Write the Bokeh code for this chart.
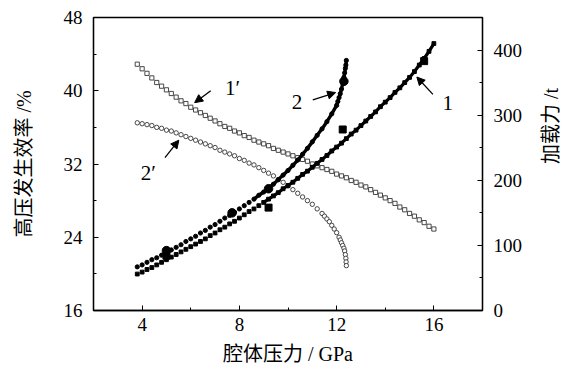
import math
from bokeh.plotting import figure
from bokeh.models import Range1d, LinearAxis, FixedTicker, Arrow, NormalHead, Label
from bokeh.embed import file_html
from bokeh.resources import INLINE

# ---------------- data ----------------
# pressure grid (GPa) for curves 1 and 1'
pressure_full = [3.8, 4.0, 4.2, 4.4, 4.6, 4.8, 5.0, 5.2, 5.4, 5.6, 5.8, 6.0, 6.2, 6.4, 6.6,
                 6.8, 7.0, 7.2, 7.4, 7.6, 7.8, 8.0, 8.2, 8.4, 8.6, 8.8, 9.0, 9.2, 9.4, 9.6,
                 9.8, 10.0, 10.2, 10.4, 10.6, 10.8, 11.0, 11.2, 11.4, 11.6, 11.8, 12.0, 12.2,
                 12.4, 12.6, 12.8, 13.0, 13.2, 13.4, 13.6, 13.8, 14.0, 14.2, 14.4, 14.6,
                 14.8, 15.0, 15.2, 15.4, 15.6, 15.8, 16.0]
# curve 1: load (t)
load_1 = [56, 59, 63, 66, 70, 74, 78, 82, 86, 90, 94, 98, 102, 106, 110, 115, 119, 124,
          128, 133, 137, 142, 147, 152, 156, 161, 166, 171, 176, 181, 187, 192, 197, 203,
          209, 214, 220, 226, 232, 238, 245, 251, 257, 264, 271, 277, 284, 291, 298, 305,
          313, 320, 327, 335, 342, 350, 358, 367, 377, 387, 398, 410]
# curve 1': efficiency (%)
eff_1p = [42.9, 42.4, 41.9, 41.4, 40.9, 40.5, 40.1, 39.7, 39.3, 38.9, 38.6, 38.2, 37.9,
          37.6, 37.3, 37.0, 36.7, 36.4, 36.1, 35.9, 35.6, 35.4, 35.1, 34.9, 34.6, 34.4,
          34.2, 34.0, 33.7, 33.5, 33.3, 33.1, 32.9, 32.7, 32.5, 32.3, 32.0, 31.8, 31.6,
          31.4, 31.2, 30.9, 30.7, 30.5, 30.2, 30.0, 29.7, 29.5, 29.2, 28.9, 28.6, 28.3,
          28.0, 27.7, 27.3, 27.0, 26.6, 26.3, 25.9, 25.6, 25.2, 24.9]

# curve 2: load (t)
pressure_2 = [3.8, 4.0, 4.2, 4.4, 4.6, 4.8, 5.0, 5.2, 5.4, 5.6, 5.8, 6.0, 6.2, 6.4, 6.6,
              6.8, 7.0, 7.2, 7.4, 7.6, 7.8, 8.0, 8.2, 8.4, 8.6, 8.8, 9.0, 9.2, 9.4, 9.6,
              9.8, 10.0, 10.2, 10.4, 10.6, 10.8, 11.0, 11.2, 11.4, 11.6, 11.8, 12.0,
              12.05, 12.1, 12.15, 12.2, 12.25, 12.3, 12.33, 12.36, 12.38, 12.4]
load_2 = [67, 70, 74, 78, 81, 85, 89, 93, 97, 101, 106, 110, 114, 119, 123, 128, 132,
          137, 142, 146, 151, 156, 161, 166, 171, 177, 182, 188, 194, 201, 208, 215, 223,
          231, 240, 249, 259, 269, 279, 290, 302, 315,
          321, 327, 333, 340, 349, 358, 365, 372, 377, 384]

# curve 2': efficiency (%)
pressure_2p = [3.8, 4.0, 4.2, 4.4, 4.6, 4.8, 5.0, 5.2, 5.4, 5.6, 5.8, 6.0, 6.2, 6.4, 6.6,
               6.8, 7.0, 7.2, 7.4, 7.6, 7.8, 8.0, 8.2, 8.4, 8.6, 8.8, 9.0, 9.2, 9.4, 9.6,
               9.8, 10.0, 10.2, 10.4, 10.6, 10.8, 11.0, 11.2, 11.4,
               11.5, 11.6, 11.7, 11.8, 11.9, 12.0, 12.1, 12.15, 12.2, 12.25, 12.3, 12.33,
               12.36, 12.38, 12.39, 12.4]
eff_2p = [36.5, 36.4, 36.3, 36.2, 36.0, 35.9, 35.7, 35.6, 35.4, 35.2, 35.0, 34.8, 34.6,
          34.4, 34.2, 34.0, 33.8, 33.5, 33.3, 33.1, 32.9, 32.6, 32.4, 32.1, 31.9, 31.6,
          31.3, 31.0, 30.7, 30.3, 30.0, 29.6, 29.2, 28.8, 28.4, 28.0, 27.6, 27.1, 26.6,
          26.3, 26.0, 25.7, 25.3, 24.9, 24.5, 24.0, 23.7, 23.4, 23.1, 22.8, 22.5, 22.1,
          21.7, 21.3, 20.9]

# measured points
meas1_p = [5.0, 9.2, 12.25, 15.6]
meas1_load = [84, 158, 278, 383]
meas2_p = [5.0, 7.7, 9.2, 12.3]
meas2_load = [92, 150, 187, 352]

x_ticks = [4, 8, 12, 16]
x_minor = [2, 6, 10, 14, 18]
left_ticks = [16, 24, 32, 40, 48]
left_minor = [20, 28, 36, 44]
right_ticks = [0, 100, 200, 300, 400]
right_minor = [50, 150, 250, 350, 450]

x_title = "腔体压力 / GPa"
left_title = "高压发生效率 /%"
right_title = "加载力 /t"

# ---------------- figure ----------------
SERIF = "'Liberation Serif'"
MIXED = "'Liberation Serif', 'Noto Sans CJK SC'"

p = figure(frame_width=389, frame_height=293, x_range=Range1d(2, 18), y_range=Range1d(16, 48),
           output_backend="svg", toolbar_location=None,
           min_border_left=93, min_border_right=90, min_border_top=17, min_border_bottom=64)
p.extra_y_ranges = {"load": Range1d(0, 450)}
p.xgrid.visible = False
p.ygrid.visible = False
p.outline_line_color = "black"
p.outline_line_width = 1.3
p.background_fill_color = "white"
p.border_fill_color = "white"

right_axis = LinearAxis(y_range_name="load")
p.add_layout(right_axis, "right")

p.xaxis.ticker = FixedTicker(ticks=x_ticks, minor_ticks=x_minor)
p.yaxis[0].ticker = FixedTicker(ticks=left_ticks, minor_ticks=left_minor)
right_axis.ticker = FixedTicker(ticks=right_ticks, minor_ticks=right_minor)

p.xaxis[0].axis_label = x_title
p.yaxis[0].axis_label = left_title
right_axis.axis_label = right_title
right_axis.axis_label_orientation = math.pi / 2

for ax in [p.xaxis[0], p.yaxis[0], right_axis]:
    ax.axis_line_color = "black"
    ax.axis_line_width = 1.3
    ax.major_tick_in = 5
    ax.major_tick_out = 0
    ax.minor_tick_in = 3
    ax.minor_tick_out = 0
    ax.major_tick_line_color = "black"
    ax.minor_tick_line_color = "black"
    ax.major_label_text_font = SERIF
    ax.major_label_text_font_size = "19px"
    ax.major_label_text_color = "black"
    ax.major_label_standoff = 11
    ax.axis_label_text_font = MIXED
    ax.axis_label_text_font_size = "20px"
    ax.axis_label_text_font_style = "normal"
    ax.axis_label_text_color = "black"

p.xaxis[0].major_label_standoff = 7
p.xaxis[0].axis_label_standoff = 9
p.yaxis[0].axis_label_standoff = 26
right_axis.axis_label_standoff = 26

# ---------------- curves ----------------
# 1' open squares
p.scatter(pressure_full, eff_1p, marker="square", size=4.2, fill_color="white",
          line_color="#333333", line_width=0.9)
# 2' open circles
p.scatter(pressure_2p, eff_2p, marker="circle", size=4.4, fill_color="white",
          line_color="#333333", line_width=0.9)

# 1 filled small squares (load)
hi1_x = [x for x in pressure_full if x >= 9.0]
hi1_y = [y for x, y in zip(pressure_full, load_1) if x >= 9.0]
p.line(hi1_x, hi1_y, y_range_name="load", line_color="black", line_width=3.2)
p.scatter(pressure_full, load_1, marker="square", size=3.8, fill_color="black",
          line_color="black", y_range_name="load")
# 2 filled small dots (load)
hi2_x = [x for x in pressure_2 if x >= 8.6]
hi2_y = [y for x, y in zip(pressure_2, load_2) if x >= 8.6]
p.line(hi2_x, hi2_y, y_range_name="load", line_color="black", line_width=3.4)
p.scatter(pressure_2, load_2, marker="circle", size=4.2, fill_color="black",
          line_color="black", y_range_name="load")

# measured points
p.scatter(meas1_p, meas1_load, marker="square", size=7, fill_color="black",
          line_color="black", y_range_name="load")
p.scatter(meas2_p, meas2_load, marker="circle", size=8.5, fill_color="black",
          line_color="black", y_range_name="load")

# ---------------- annotations ----------------
arrows = [
    ((6.82, 40.0), (6.16, 38.7)),   # 1'
    ((4.94, 32.7), (5.51, 34.6)),   # 2'
    ((11.02, 39.0), (11.96, 39.8)), # 2
    ((15.96, 39.6), (15.3, 41.5)),  # 1
]
for (xs, ys), (xe, ye) in arrows:
    p.add_layout(Arrow(x_start=xs, y_start=ys, x_end=xe, y_end=ye, line_width=1.3,
                       line_color="black",
                       end=NormalHead(size=8, fill_color="black", line_color="black")))

labels = [("1\u2032", 7.72, 40.25), ("2\u2032", 4.25, 31.05), ("2", 10.37, 38.8), ("1", 16.57, 38.7)]
for t, lx, ly in labels:
    p.add_layout(Label(x=lx, y=ly, text=t, text_font=SERIF, text_font_size="21px",
                       text_align="center", text_baseline="middle", text_color="black"))

open("out.html", "w").write(file_html(p, INLINE))
